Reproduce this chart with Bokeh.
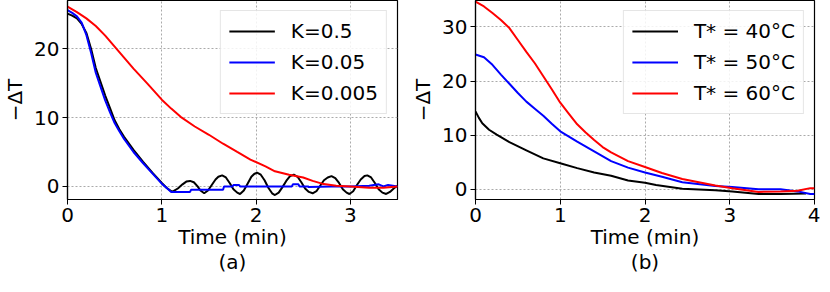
from bokeh.plotting import figure
from bokeh.layouts import row
from bokeh.models import Range1d, Legend, LegendItem, FixedTicker
from bokeh.embed import file_html
from bokeh.resources import INLINE

# ---- panel (a) data ----
a_t_k05 = [0, 0.05, 0.1, 0.15, 0.2, 0.25, 0.3, 0.35, 0.4, 0.45, 0.5, 0.55, 0.6, 0.7, 0.8, 0.9, 1.0, 1.05, 1.11,
           1.17, 1.22, 1.26, 1.30, 1.34, 1.38, 1.41, 1.45, 1.49, 1.53, 1.57, 1.60, 1.64, 1.68, 1.72, 1.76, 1.80, 1.83,
           1.87, 1.91, 1.95, 1.98, 2.01, 2.05, 2.09, 2.13, 2.17, 2.20, 2.24, 2.28, 2.32, 2.36, 2.40, 2.44, 2.48,
           2.52, 2.56, 2.60, 2.64, 2.68, 2.72, 2.76, 2.80, 2.84, 2.88, 2.92, 2.96, 2.99, 3.03, 3.07, 3.11, 3.15,
           3.18, 3.22, 3.26, 3.30, 3.34, 3.38, 3.42, 3.46, 3.5]
a_v_k05 = [25.1, 24.8, 24.4, 23.6, 22.3, 20.0, 17.2, 15.2, 13.2, 11.4, 9.6, 8.3, 7.2, 5.3, 3.6, 2.0, 0.5, -0.2, -0.8,
           -0.3, 0.3, 0.7, 0.8, 0.6, 0.0, -0.6, -1.0, -0.6, 0.2, 1.0, 1.4, 1.6, 1.3, 0.5, -0.4, -0.9, -1.1,
           -0.6, 0.4, 1.4, 1.8, 2.0, 1.7, 0.9, -0.2, -1.0, -1.25, -0.9, -0.1, 0.8, 1.5, 1.7, 1.4, 0.6,
           -0.3, -0.8, -1.0, -0.7, 0.1, 0.9, 1.3, 1.5, 1.2, 0.5, -0.4, -0.9, -1.1, -0.7, 0.2, 1.0, 1.5,
           1.6, 1.3, 0.5, -0.4, -0.9, -1.1, -0.8, -0.3, 0.1]

a_t_k005 = [0, 0.05, 0.1, 0.15, 0.2, 0.25, 0.3, 0.35, 0.4, 0.45, 0.5, 0.55, 0.6, 0.7, 0.8, 0.9, 1.0, 1.05, 1.1,
            1.3, 1.31, 1.65, 1.66, 1.75, 1.76, 1.82, 1.83, 2.38, 2.39, 2.45, 2.46, 2.55, 2.56, 2.8, 3.0, 3.2,
            3.3, 3.35, 3.4, 3.5]
a_v_k005 = [25.6, 25.2, 24.7, 23.8, 22.0, 19.4, 16.5, 14.5, 12.5, 10.8, 9.2, 8.0, 6.9, 5.0, 3.4, 1.9, 0.4, -0.2, -0.8,
            -0.8, -0.5, -0.5, 0.0, 0.0, 0.2, 0.2, 0.0, 0.0, 0.3, 0.3, 0.0, 0.0, -0.1, 0.0, 0.0, 0.1,
            0.3, 0.0, 0.2, 0.0]

a_t_k0005 = [0, 0.1, 0.2, 0.3, 0.4, 0.5, 0.6, 0.7, 0.85, 1.0, 1.1, 1.2, 1.35, 1.5, 1.65, 1.8, 1.94, 2.1, 2.2, 2.35,
             2.5, 2.6, 2.7, 2.85, 3.0, 3.2, 3.35, 3.5]
a_v_k0005 = [26.1, 25.3, 24.4, 23.3, 21.9, 20.3, 18.7, 17.1, 14.9, 12.6, 11.3, 10.1, 8.7, 7.5, 6.2, 5.0, 3.9, 2.9,
             2.2, 1.7, 1.3, 0.8, 0.4, 0.1, 0.0, -0.2, -0.2, 0.0]

a_labels = ["K=0.5", "K=0.05", "K=0.005"]

# ---- panel (b) data ----
b_t_40 = [0, 0.04, 0.08, 0.16, 0.25, 0.4, 0.6, 0.8, 1.0, 1.2, 1.4, 1.6, 1.8, 2.0, 2.13, 2.44, 2.83, 3.03, 3.34,
          3.6, 3.9]
b_v_40 = [14.4, 13.2, 12.2, 11.0, 10.1, 8.7, 7.2, 5.7, 4.8, 3.9, 3.1, 2.5, 1.6, 1.2, 0.8, 0.1, -0.2, -0.4, -0.9,
          -0.9, -0.8]

b_t_50 = [0, 0.1, 0.2, 0.3, 0.4, 0.5, 0.6, 0.7, 0.8, 0.9, 1.0, 1.2, 1.4, 1.6, 1.8, 2.0, 2.2, 2.44, 2.83,
          3.03, 3.34, 3.6, 3.8, 3.95, 4.0]
b_v_50 = [24.9, 24.4, 23.0, 21.2, 19.5, 17.8, 16.2, 14.9, 13.6, 12.1, 10.7, 8.8, 7.0, 5.2, 4.0, 3.1, 2.3, 1.3,
          0.6, 0.4, 0.0, 0.0, -0.4, -0.9, -0.9]

b_t_60 = [0, 0.1, 0.2, 0.3, 0.4, 0.5, 0.6, 0.7, 0.8, 0.9, 1.0, 1.1, 1.2, 1.3, 1.4, 1.5, 1.6, 1.8, 2.0, 2.2,
          2.44, 2.83, 3.03, 3.34, 3.6, 3.8, 3.95, 4.0]
b_v_60 = [34.7, 33.8, 32.6, 31.3, 29.8, 27.6, 25.4, 23.3, 20.9, 18.5, 16.0, 14.0, 12.0, 10.5, 9.1, 7.8, 6.8, 5.2,
          4.1, 3.0, 1.9, 0.7, 0.2, -0.5, -0.4, -0.3, 0.2, 0.2]

b_labels = ["T* = 40°C", "T* = 50°C", "T* = 60°C"]

FONT = "DejaVu Sans"
FS = "20px"


def make_fig(width, xr, yr, xticks, yticks, border_left, border_right, sub):
    p = figure(width=width, height=276, x_range=Range1d(*xr), y_range=Range1d(*yr),
               output_backend="svg", toolbar_location=None,
               min_border_left=border_left, min_border_right=border_right,
               min_border_top=0, min_border_bottom=76)
    p.outline_line_color = "black"
    p.outline_line_width = 1.2
    p.outline_line_alpha = 1
    p.background_fill_color = "white"
    p.border_fill_color = "white"
    p.xaxis.ticker = FixedTicker(ticks=xticks)
    p.yaxis.ticker = FixedTicker(ticks=yticks)
    for ax in (p.xaxis, p.yaxis):
        ax.axis_line_color = "black"
        ax.axis_line_width = 1.2
        ax.major_tick_line_color = "black"
        ax.major_tick_out = 5
        ax.major_tick_in = 0
        ax.minor_tick_line_color = None
        ax.major_label_text_font = FONT
        ax.major_label_text_font_size = FS
        ax.major_label_text_color = "black"
        ax.major_label_standoff = 3
        ax.axis_label_text_font = FONT
        ax.axis_label_text_font_size = FS
        ax.axis_label_text_font_style = "normal"
        ax.axis_label_text_color = "black"
    p.xaxis.axis_label = "Time (min)\n" + sub
    p.xaxis.axis_label_standoff = 0
    p.xaxis.axis_label_text_line_height = 1.05
    p.yaxis.axis_label = "\u2212\u0394T"
    p.yaxis.axis_label_standoff = 4
    p.xgrid.ticker = FixedTicker(ticks=xticks)
    p.ygrid.ticker = FixedTicker(ticks=yticks)
    for g in (p.xgrid, p.ygrid):
        g.grid_line_color = "#aaaaaa"
        g.grid_line_dash = "2 2"
        g.grid_line_width = 1
    return p


def add_legend(p, renderers, labels):
    items = [LegendItem(label=l, renderers=[r]) for l, r in zip(labels, renderers)]
    lg = Legend(items=items, location="top_right")
    lg.label_text_font = FONT
    lg.label_text_font_size = FS
    lg.label_text_color = "black"
    lg.glyph_width = 46
    lg.glyph_height = 20
    lg.label_height = 24
    lg.spacing = 7
    lg.label_standoff = 16
    lg.padding = 8
    lg.margin = 10
    lg.border_line_color = "#cccccc"
    lg.border_line_width = 1
    lg.background_fill_color = "white"
    lg.background_fill_alpha = 0.85
    p.add_layout(lg)


p1 = make_fig(407, (0, 3.5), (-1.9, 27.0), [0, 1, 2, 3], [0, 10, 20], 57, 10, "(a)")
r1 = p1.line(a_t_k05, a_v_k05, line_color="black", line_width=2)
r2 = p1.line(a_t_k005, a_v_k005, line_color="#0000ff", line_width=2)
r3 = p1.line(a_t_k0005, a_v_k0005, line_color="#ff0000", line_width=2)
add_legend(p1, [r1, r2, r3], a_labels)

p2 = make_fig(413, (0, 4), (-1.9, 34.9), [0, 1, 2, 3, 4], [0, 10, 20, 30], 68, 6, "(b)")
s1 = p2.line(b_t_40, b_v_40, line_color="black", line_width=2)
s2 = p2.line(b_t_50, b_v_50, line_color="#0000ff", line_width=2)
s3 = p2.line(b_t_60, b_v_60, line_color="#ff0000", line_width=2)
add_legend(p2, [s1, s2, s3], b_labels)

layout = row(p1, p2)
open("out.html", "w").write(file_html(layout, INLINE))
